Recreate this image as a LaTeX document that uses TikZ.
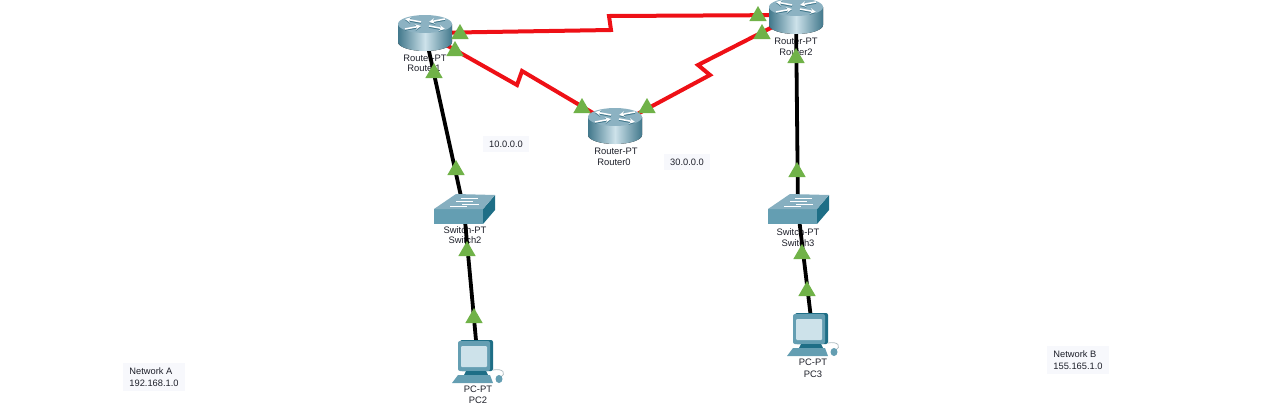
\documentclass[tikz,border=0pt]{standalone}
\usepackage{xcolor}
\usepackage{fontspec}
\setmainfont{Liberation Sans}
\usetikzlibrary{shapes.geometric}
\definecolor{linkred}{RGB}{238,16,22}
\definecolor{portgreen}{RGB}{112,178,72}
\definecolor{netbox}{RGB}{247,248,252}
\definecolor{labelink}{RGB}{30,32,42}
\definecolor{devtop}{RGB}{140,178,194}
\definecolor{devdark}{RGB}{66,120,140}
\definecolor{devlight}{RGB}{205,226,234}
\definecolor{devdeep}{RGB}{30,110,134}
\definecolor{devmid}{RGB}{100,158,178}
\tikzset{
  devspot/.style={inner sep=0pt,minimum size=1pt},
  devlabel/.style={font=\fontsize{9.4}{11}\selectfont,text=labelink,inner sep=0pt},
  netlabel/.style={font=\fontsize{9.3}{12}\selectfont,text=labelink,fill=netbox,inner xsep=6pt,inner ysep=5pt,align=left},
  portmark/.style={regular polygon,regular polygon sides=3,minimum size=20pt,inner sep=0pt,fill=portgreen},
  seriallink/.style={linkred,line width=4pt,line join=miter},
  copperlink/.style={black,line width=3.8pt},
  routericon/.pic={
    \fill[left color=devdark,right color=devdark,middle color=devlight]
      (-27,-9)--(-27,9) arc[start angle=180,end angle=0,x radius=27,y radius=9] --(27,-9)--cycle;
    \fill[devtop] (0,-9) ellipse[x radius=27,y radius=9];
    \foreach \sx/\sy/\tip in {-1/-1/->,1/-1/<-,-1/1/<-,1/1/->} {
      \draw[devdark,line width=1.6pt,\tip,>=stealth] (\sx*4,\sy*2-8)--(\sx*20,\sy*5-8);
      \draw[white,line width=1.5pt,\tip,>=stealth] (\sx*4,\sy*2-9)--(\sx*20,\sy*5-9);
    }
  },
  switchicon/.pic={
    \fill[devmid] (-30,-1)--(19,-1)--(19,14)--(-30,14)--cycle;
    \fill[devdeep] (19,-1)--(31,-15)--(31,0)--(19,14)--cycle;
    \fill[devtop!85!devmid] (-30,-1)--(-8,-16)--(31,-15)--(19,-1)--cycle;
    \foreach \ay/\ax in {-12/-3,-9/-8,-6/-2,-4/-14}
      \draw[white,line width=1pt] (\ax,\ay)--(\ax+17,\ay);
  },
  pcicon/.pic={
    \fill[devdeep,rounded corners=2pt] (-18,-22)--(15,-22)--(15,9)--(-18,9)--cycle;
    \fill[devmid,rounded corners=2pt] (-20,-21)--(12,-21)--(12,9)--(-20,9)--cycle;
    \fill[devlight,rounded corners=1pt] (-17,-16)--(9,-16)--(9,5)--(-17,5)--cycle;
    \fill[devdeep] (-12,9)--(8,9)--(10,13)--(-14,13)--cycle;
    \fill[devmid] (-20,13)--(12,13)--(15,21)--(-26,21)--cycle;
    \draw[devlight!60!gray,line width=.7pt] (15,8) .. controls (26,6) and (28,12) .. (23,15);
    \fill[devmid] (21,17) ellipse[x radius=3.5,y radius=4];
  },
}
\begin{document}
\begin{tikzpicture}[x=1pt,y=-1pt]
  \useasboundingbox (0,0) rectangle (1280,413);
  % network notes
  \node[netlabel] (netA) at (154,377) {Network A\\192.168.1.0};
  \node[netlabel] (netB) at (1078,360) {Network B\\155.165.1.0};
  \node[netlabel] (net10) at (506,144) {10.0.0.0};
  \node[netlabel] (net30) at (687,162) {30.0.0.0};
  % device names
  \foreach \dev/\x/\y/\lab in {a1/425/58/Router-PT,b1/424/68/Router1,a0/616/151/Router-PT,b0/614/162/Router0,
      a2/796/41/Router-PT,b2/796/52/Router2,a3/465/230/Switch-PT,b3/465/240/Switch2,
      a4/798/232/Switch-PT,b4/798/243/Switch3,a5/478/389/PC-PT,b5/478/400/PC2,
      a6/813/362/PC-PT,b6/813/374/PC3}
    \node[devlabel] (name\dev) at (\x,\y) {\lab};
  % device spots
  \node[devspot] (router1) at (425,33) {};
  \node[devspot] (router0) at (615,126) {};
  \node[devspot] (router2) at (796,15) {};
  \node[devspot] (switch2) at (464,210) {};
  \node[devspot] (switch3) at (798,210) {};
  \node[devspot] (pc2) at (478,362) {};
  \node[devspot] (pc3) at (813,335) {};
  \coordinate (kinkA) at (611,30);
  \coordinate (kinkB) at (609,16);
  \coordinate (kinkC) at (517,85);
  \coordinate (kinkD) at (522,71);
  \coordinate (kinkE) at (710,75);
  \coordinate (kinkF) at (698,65);
  % links
  \draw[seriallink] (router1)--(kinkA)--(kinkB)--(router2);
  \draw[seriallink] (router1)--(kinkC)--(kinkD)--(router0);
  \draw[seriallink] (router0)--(kinkE)--(kinkF)--(router2);
  \draw[copperlink] (router1)--(switch2);
  \draw[copperlink] (switch2)--(pc2);
  \draw[copperlink] (router2)--(switch3);
  \draw[copperlink] (switch3)--(pc3);
  % icons
  \pic at (425,33) {routericon};
  \pic at (615,126) {routericon};
  \pic at (796,16) {routericon};
  \pic at (464,210) {switchicon};
  \pic at (798,210) {switchicon};
  \pic at (478,362) {pcicon};
  \pic at (813,335) {pcicon};
  % port marks
  \foreach \px/\py [count=\n] in {460/34,455/51,434/73,456/170,467/251,474/318,582/108,647/108,
      758/16,762/34,796/58,797/172,802/254,807/291}
    \node[portmark] (port\n) at (\px,\py) {};
\end{tikzpicture}
\end{document}
